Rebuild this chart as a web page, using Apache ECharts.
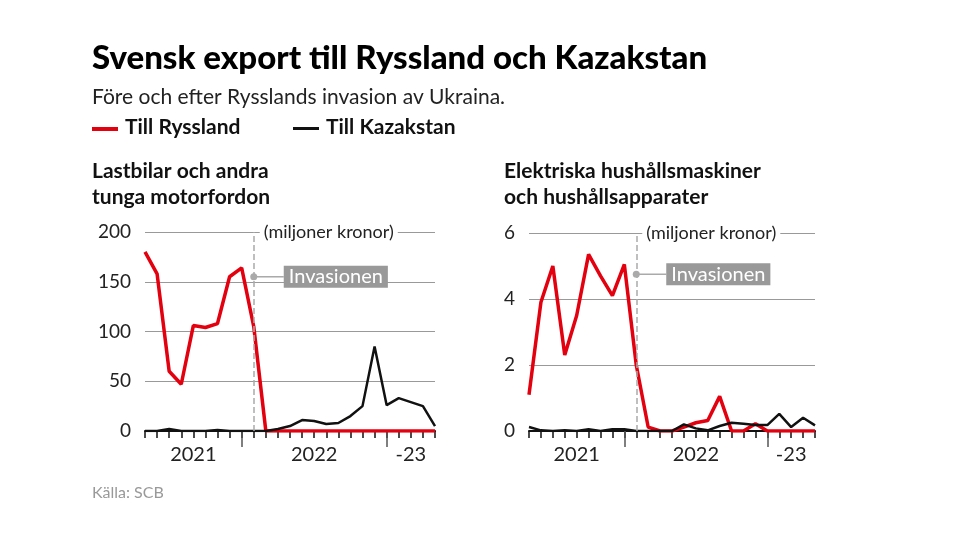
<!DOCTYPE html>
<html><head><meta charset="utf-8">
<script src="https://cdn.jsdelivr.net/npm/echarts@6/dist/echarts.min.js"></script>
<style>html,body{margin:0;padding:0;background:#fff}#c{width:980px;height:551px}</style>
</head><body><div id="c"></div>
<script>
const months = ['2021-05','2021-06','2021-07','2021-08','2021-09','2021-10','2021-11','2021-12','2022-01','2022-02','2022-03','2022-04','2022-05','2022-06','2022-07','2022-08','2022-09','2022-10','2022-11','2022-12','2023-01','2023-02','2023-03','2023-04','2023-05'];
const yearLabels = {4:'2021', 14:'2022', 22:'-23'};
const yearBreaks = [8, 20];
const invasionIndex = 9;
const truckRussia = [180,158,60,47,106,104,108,155,164,105,0,0,0,0,0,0,0,0,0,0,0,0,0,0,0];
const truckKazakh = [0,0,2,0,0,0,1,0,0,0,0,2,5,11,10,7,8,15,25,85,26,33,29,25,5];
const applRussia = [1.1,3.9,5.0,2.3,3.5,5.35,4.7,4.1,5.05,2.0,0.12,0,0,0.12,0.25,0.32,1.05,0,0,0.22,0,0,0,0,0];
const applKazakh = [0.12,0.02,0,0.02,0,0.05,0,0.05,0.05,0,0,0,0,0.2,0.08,0.02,0.15,0.25,0.22,0.18,0.18,0.52,0.12,0.4,0.17];
const RED='#e3000f', BLK='#111', F='Lato, "Open Sans", sans-serif';

const chart = echarts.init(document.getElementById('c'));
const grids=[{left:145,width:290,top:232,height:199},{left:529,width:286,top:233,height:198}];
function xAxes(g){
  return [{type:'category',gridIndex:g,data:months,boundaryGap:false,
    axisLine:{lineStyle:{color:'#111',width:2}},
    axisTick:{show:true,interval:0,length:7,lineStyle:{color:'#111',width:1.5}},
    axisLabel:{interval:(i)=>yearLabels[i]!==undefined,formatter:(v,i)=>yearLabels[i]||'',color:'#222',fontSize:20,fontFamily:F,margin:14}},
   {type:'category',gridIndex:g,data:months,boundaryGap:false,position:'bottom',
    axisLine:{show:false},axisLabel:{show:false},
    axisTick:{show:true,interval:(i)=>yearBreaks.includes(i),length:16,lineStyle:{color:'#555',width:1.5}}}];
}
function series(g,data,color,withMark){
  const s={type:'line',xAxisIndex:g*2,yAxisIndex:g,data:data,symbol:'none',lineStyle:{color:color,width:color===RED?3.5:2.5},z:color===RED?3:4};
  if(withMark){s.markLine={silent:true,symbol:'none',label:{show:false},lineStyle:{color:'#aaa',type:'dashed',width:1.5},data:[{xAxis:invasionIndex}]};}
  return s;
}
const staticGraphic=[
  {type:'text',left:92,top:42,style:{text:'Svensk export till Ryssland och Kazakstan',fontSize:33,fontWeight:900,fontFamily:F,fill:'#000'}},
  {type:'text',left:92,top:87,style:{text:'Före och efter Rysslands invasion av Ukraina.',fontSize:21,fontFamily:F,fill:'#222'}},
  {type:'rect',shape:{x:92,y:127,width:26,height:4},style:{fill:RED}},
  {type:'text',left:125,top:117,style:{text:'Till Ryssland',fontSize:21,fontWeight:'bold',fontFamily:F,fill:'#111'}},
  {type:'rect',shape:{x:293,y:127,width:26,height:3},style:{fill:'#111'}},
  {type:'text',left:326,top:117,style:{text:'Till Kazakstan',fontSize:21,fontWeight:'bold',fontFamily:F,fill:'#111'}},
  {type:'text',left:92,top:158,style:{text:'Lastbilar och andra\ntunga motorfordon',fontSize:21,fontWeight:'bold',fontFamily:F,fill:'#111',lineHeight:26}},
  {type:'text',left:504,top:158,style:{text:'Elektriska hushållsmaskiner\noch hushållsapparater',fontSize:21,fontWeight:'bold',fontFamily:F,fill:'#111',lineHeight:26}},
  {type:'text',left:92,top:485,style:{text:'Källa: SCB',fontSize:16,fontFamily:F,fill:'#999'}}
];
chart.setOption({
  animation:false,
  grid:grids,
  xAxis:[...xAxes(0),...xAxes(1)],
  yAxis:[
    {type:'value',gridIndex:0,min:0,max:200,interval:50,axisLabel:{color:'#222',fontSize:19,fontFamily:F,margin:14},splitLine:{lineStyle:{color:'#999',width:1}},axisLine:{show:false},axisTick:{show:false}},
    {type:'value',gridIndex:1,min:0,max:6,interval:2,axisLabel:{color:'#222',fontSize:19,fontFamily:F,margin:14},splitLine:{lineStyle:{color:'#999',width:1}},axisLine:{show:false},axisTick:{show:false}}
  ],
  series:[series(0,truckKazakh,BLK,true),series(0,truckRussia,RED,false),series(1,applKazakh,BLK,true),series(1,applRussia,RED,false)]
});
const extra=[];
[[0,155],[1,4.75]].forEach(([g,yv])=>{
  const p=chart.convertToPixel({xAxisIndex:g*2,yAxisIndex:g},[invasionIndex,yv]);
  const top=grids[g].top;
  extra.push({type:'text',x:p[0]+6,y:top,z:10,style:{text:'(miljoner kronor)',fontSize:18,fontFamily:F,fill:'#222',backgroundColor:'#fff',padding:[0,4],verticalAlign:'middle',align:'left'}});
  extra.push({type:'line',z:10,shape:{x1:p[0],y1:p[1],x2:p[0]+30,y2:p[1]},style:{stroke:'#aaa',lineWidth:1.5}});
  extra.push({type:'circle',z:10,shape:{cx:p[0],cy:p[1],r:3.5},style:{fill:'#aaa'}});
  extra.push({type:'text',x:p[0]+30,y:p[1],z:10,style:{text:'Invasionen',fontSize:20,fontFamily:F,fill:'#fff',backgroundColor:'#999',padding:[1,5],verticalAlign:'middle',align:'left'}});
});
chart.setOption({graphic:[...staticGraphic,...extra]});
</script></body></html>
